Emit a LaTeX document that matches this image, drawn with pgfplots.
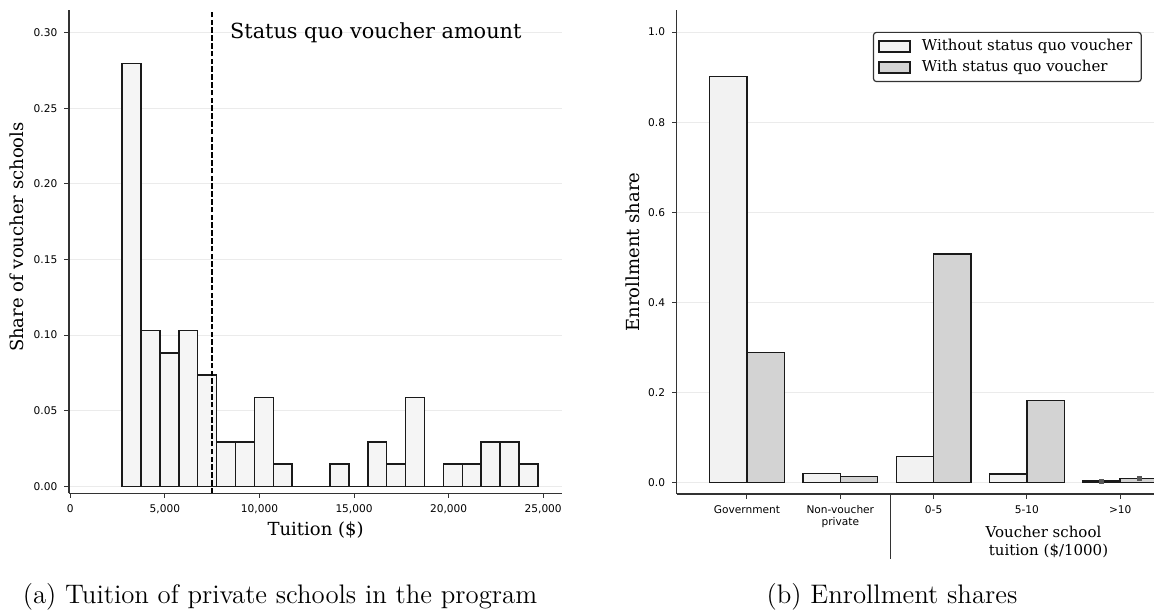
\documentclass[border=0pt]{standalone}
\usepackage{fontspec}
\usepackage{pgfplots}
\pgfplotsset{compat=1.18}

\newfontfamily\dvserif{DejaVu Serif}
\newfontfamily\dvsans{DejaVu Sans}

\definecolor{histfill}{HTML}{F5F5F5}
\definecolor{withoutfill}{HTML}{F2F2F2}
\definecolor{withfill}{HTML}{D3D3D3}
\definecolor{edgec}{HTML}{1A1A1A}
\definecolor{spinec}{HTML}{333333}
\definecolor{gridc}{HTML}{EBEBEB}

\pgfplotsset{
  panel/.style={
    scale only axis,
    axis lines=left,
    axis line style={spinec, line width=0.6pt, -},
    tick align=outside,
    major tick length=2.3pt,
    tick style={spinec, line width=0.5pt},
    ymajorgrids,
    grid style={gridc, line width=0.5pt},
    tick label style={font=\dvsans\fontsize{5.3}{5.8}\selectfont},
    label style={font=\dvserif\fontsize{9}{11}\selectfont},
    /pgf/number format/assume math mode=true,
    clip mode=individual,
  },
}

\begin{document}
\begin{tikzpicture}
\useasboundingbox (0,0) rectangle (577pt,305pt);

% (a) histogram of tuition
\begin{axis}[
  panel,
  at={(34.5pt,58.35pt)}, anchor=south west,
  width=246.55pt, height=241.65pt,
  xmin=-70, xmax=26000,
  ymin=-0.0046, ymax=0.3149,
  xtick={0,5000,10000,15000,20000,25000},
  scaled x ticks=false,
  xticklabel style={/pgf/number format/.cd, fixed, 1000 sep={,}},
  ytick={0,0.05,0.1,0.15,0.2,0.25,0.3},
  yticklabel style={/pgf/number format/.cd, fixed, fixed zerofill, precision=2},
  xlabel={Tuition (\$)},
  ylabel={Share of voucher schools},
  xlabel style={at={(rel axis cs:0.5,-0.0863)}, anchor=base},
  ylabel style={at={(rel axis cs:-0.106,0.530)}, anchor=center},
]
\addplot[ybar interval, fill=histfill, draw=edgec, line width=0.75pt] coordinates {
  (2740,0.2794) (3739,0.1029) (4738,0.0882) (5737,0.1029) (6736,0.0735)
  (7735,0.0294) (8734,0.0294) (9733,0.0588) (10732,0.0147) (11731,0)
  (12730,0) (13729,0.0147) (14728,0) (15727,0.0294) (16726,0.0147)
  (17725,0.0588) (18724,0) (19723,0.0147) (20722,0.0147) (21721,0.0294)
  (22720,0.0294) (23719,0.0147) (24718,0)
};
\addplot[black, line width=1pt, dash pattern=on 2.8pt off 1.1pt] coordinates {(7500,-0.0046) (7500,0.3149)};
\node[anchor=base west, inner sep=0pt, font=\dvserif\fontsize{10.4}{12}\selectfont] at (axis cs:8430,0.2963) {Status quo voucher amount};
\end{axis}

% (b) enrollment shares
\begin{axis}[
  panel,
  at={(338.35pt,58pt)}, anchor=south west,
  width=238.65pt, height=242pt,
  xmin=-0.753, xmax=4.362,
  ymin=-0.025, ymax=1.049,
  xtick={0,1,2,3,4},
  xticklabels={Government,{Non-voucher\\private},0-5,5-10,>10},
  xticklabel style={align=center},
  ytick={0,0.2,0.4,0.6,0.8,1.0},
  yticklabel style={/pgf/number format/.cd, fixed, fixed zerofill, precision=1},
  ylabel={Enrollment share},
  ylabel style={at={(rel axis cs:-0.0916,0.5)}, anchor=center},
  legend cell align=left,
  legend image code/.code={\draw[#1, sharp corners] (0pt,-2.75pt) rectangle (15.5pt,2.75pt);},
  legend style={at={(0.411,0.955)}, anchor=north west, draw=spinec, line width=0.6pt,
    rounded corners=1.5pt, fill=white, font=\dvserif\fontsize{7.5}{9}\selectfont,
    inner xsep=2.5pt, inner ysep=1.4pt, row sep=-0.6pt,
    /tikz/every even column/.append style={column sep=3pt},
    /tikz/every odd column/.append style={column sep=3.5pt}},
]
\addplot[ybar, bar width=0.4, bar shift=0pt, fill=withoutfill, draw=edgec, line width=0.75pt] coordinates {
  (-0.2,0.901) (0.8,0.020) (1.8,0.0586) (2.8,0.0193) (3.8,0.0037)
};
\addplot[ybar, bar width=0.4, bar shift=0pt, fill=withfill, draw=edgec, line width=0.75pt] coordinates {
  (0.2,0.2886) (1.2,0.0133) (2.2,0.5077) (3.2,0.1829) (4.2,0.0097)
};
% small interval marks on the >10 bars
\addplot[forget plot, only marks, mark=square*, mark size=1pt,
  mark options={fill=black!65, draw=black!65}] coordinates {
  (3.8,0.0037) (4.2,0.0097)
};
\legend{Without status quo voucher, With status quo voucher}
\draw[spinec, line width=0.6pt] (axis cs:1.54,-0.025) -- ([yshift=-32.5pt]axis cs:1.54,-0.025);
\end{axis}

\node[anchor=base, inner sep=0pt, font=\dvserif\fontsize{7.5}{9}\selectfont] at (521.75pt,36.15pt) {Voucher school};
\node[anchor=base, inner sep=0pt, font=\dvserif\fontsize{7.5}{9}\selectfont] at (524.25pt,27.3pt) {tuition (\$/1000)};

\node[anchor=base, inner sep=0pt, font=\fontsize{13.4}{16}\selectfont] at (140pt,3.4pt) {(a) Tuition of private schools in the program};
\node[anchor=base, inner sep=0pt, font=\fontsize{13.4}{16}\selectfont] at (446pt,3.4pt) {(b) Enrollment shares};
\end{tikzpicture}
\end{document}
